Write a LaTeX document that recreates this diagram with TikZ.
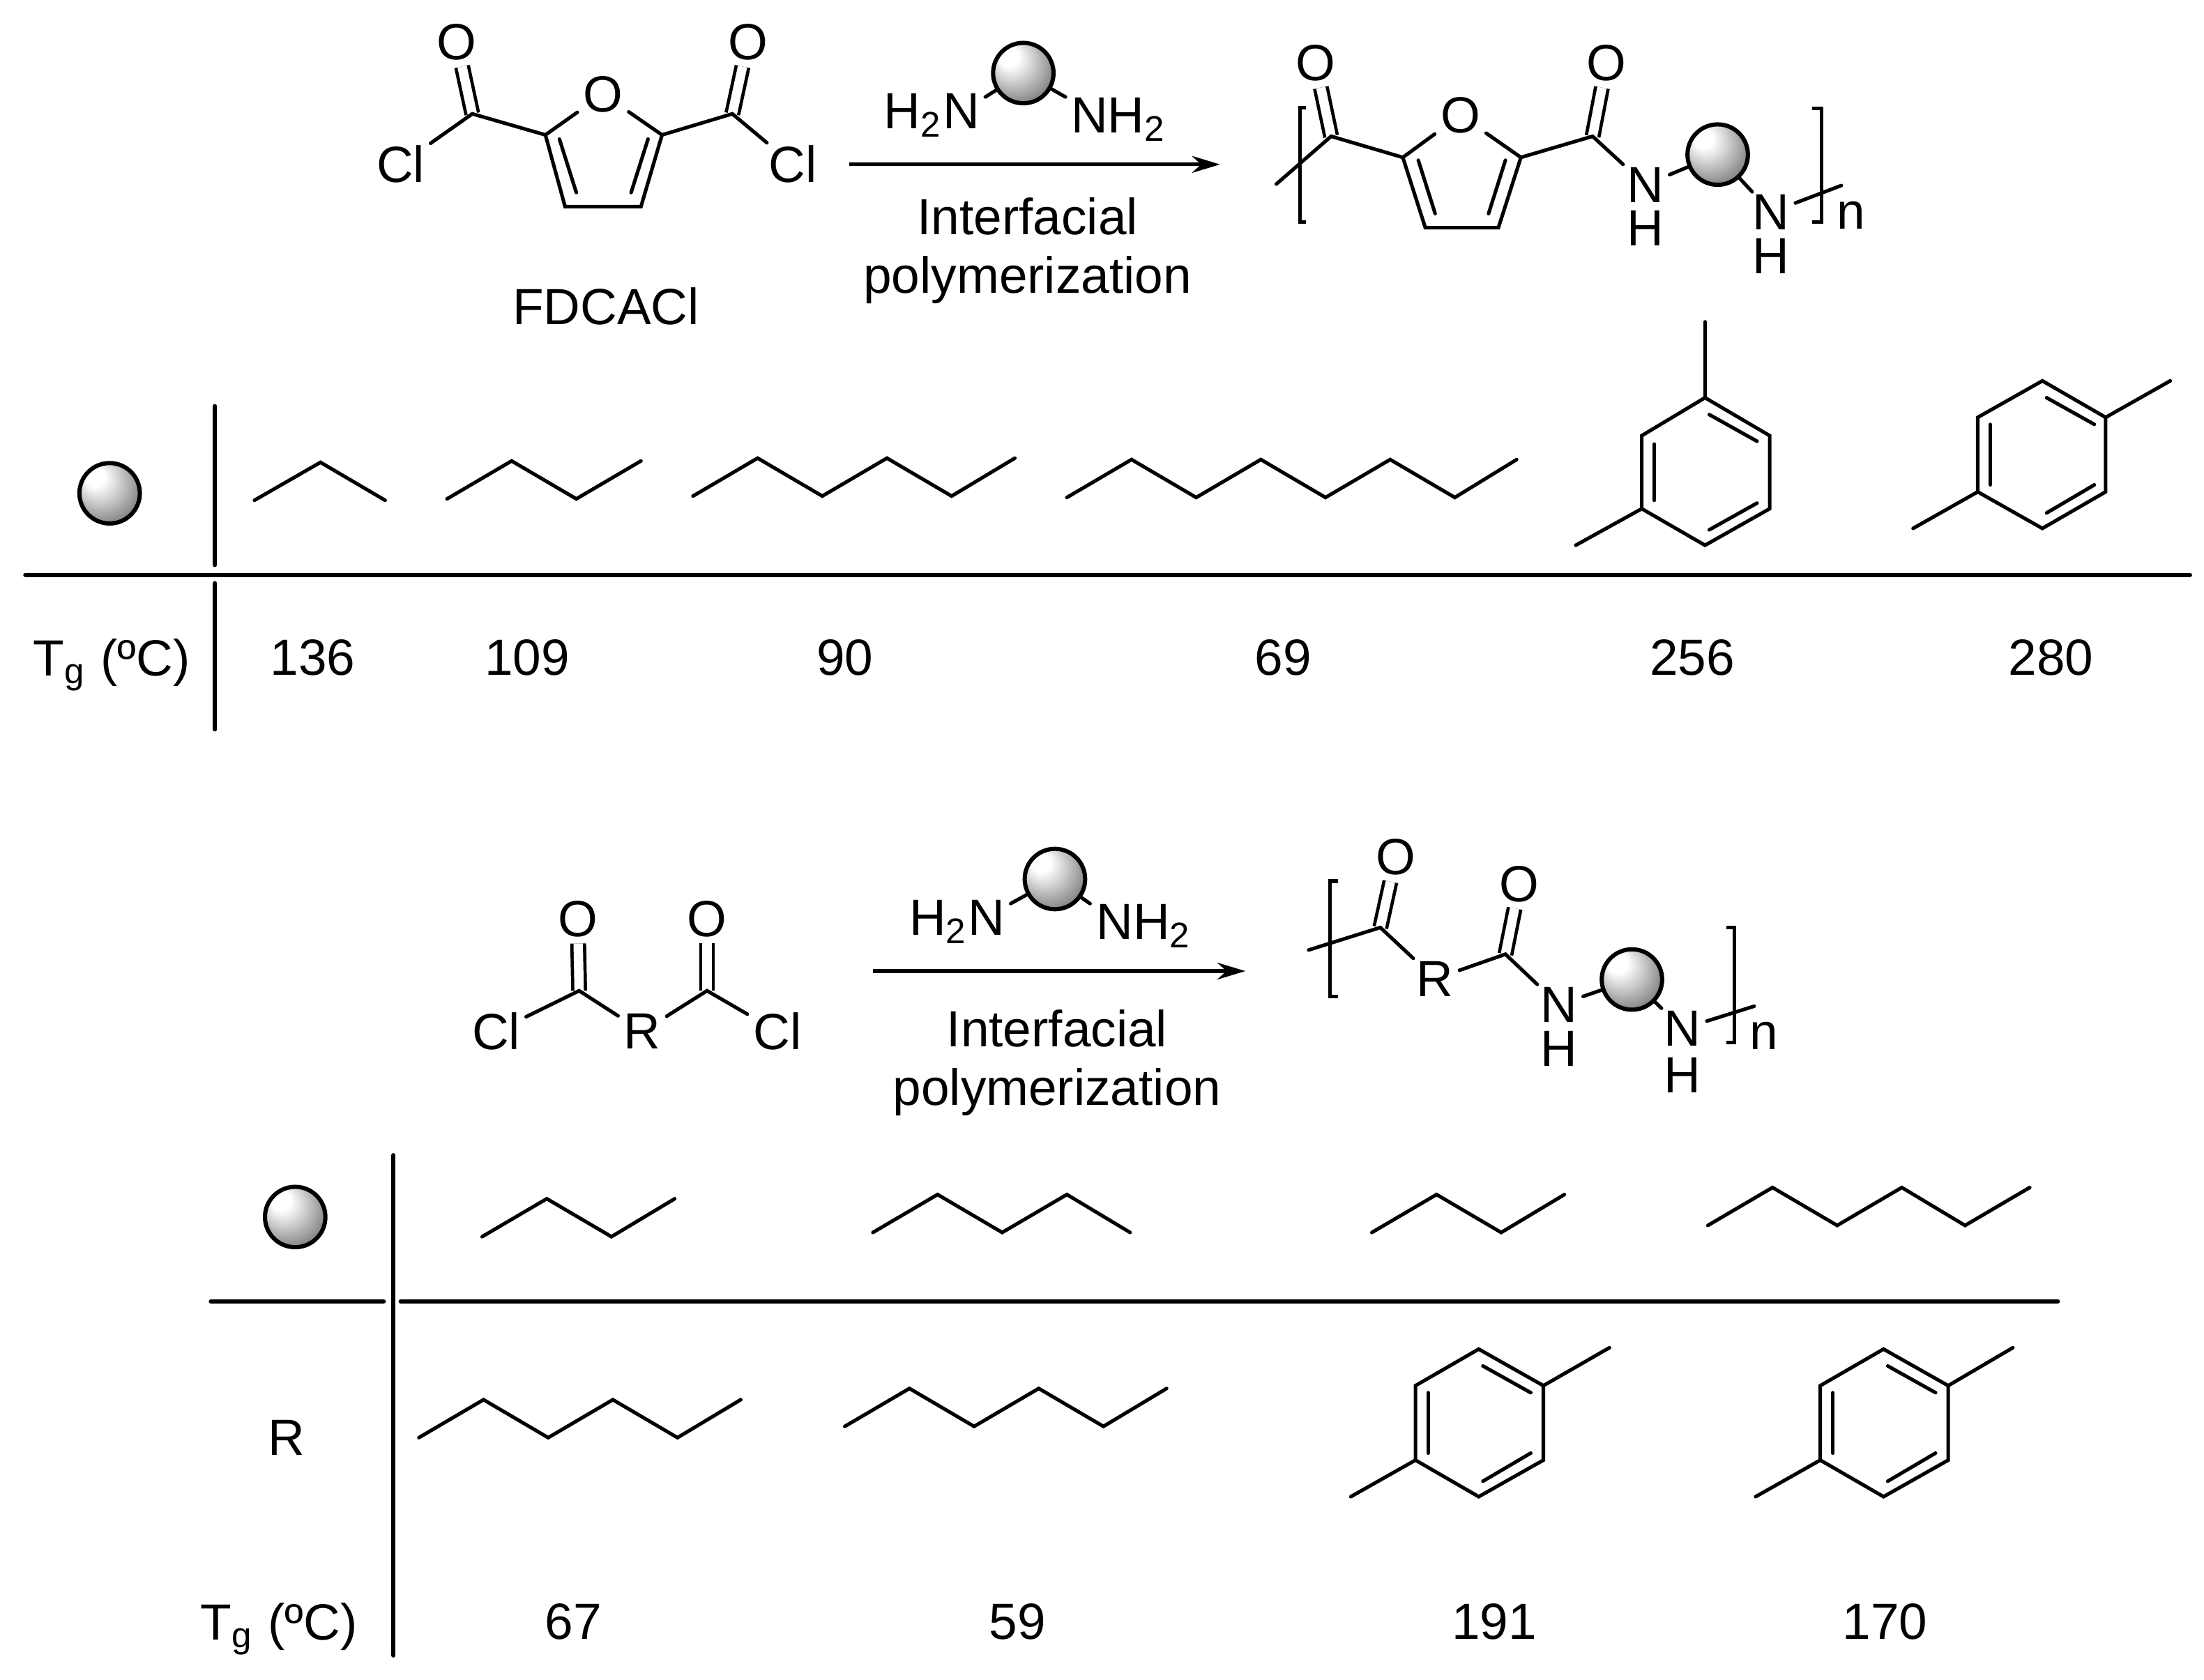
\documentclass[tikz,border=0pt]{standalone}
\usepackage{fontspec}
\setmainfont{Liberation Sans}
\usetikzlibrary{arrows.meta}
\pgfdeclareradialshading{beadshade}{\pgfpoint{-14bp}{16bp}}{%
  color(0bp)=(white); color(8bp)=(white); color(18bp)=(black!20);
  color(30bp)=(black!45); color(42bp)=(black!72); color(50bp)=(black!90)}
\tikzset{
  atom/.style={inner xsep=1pt,inner ysep=.4pt,font=\fontsize{10.3}{12}\selectfont},
  label/.style={inner sep=0pt,font=\fontsize{10.3}{12}\selectfont},
  bond/.style={draw,line width=.72pt,line cap=round,line join=miter},
  dbond/.style={draw,line width=.66pt,double,double distance=1.9pt,shorten >=.7pt},
  bead/.style={circle,draw,line width=.85pt,minimum size=.43cm,inner sep=0pt,shade,shading=beadshade},
  rule/.style={draw,line width=.85pt,line cap=round},
  bracket/.style={draw,line width=.72pt},
  rxn/.style={draw,line width=.72pt,-{Stealth[length=.2cm,width=.12cm]}}
}
\begin{document}
\begin{tikzpicture}[x=1cm,y=-1cm]
\useasboundingbox (0,0) rectangle (15.68,11.95);

% top monomer
\node[atom] (oa) at (3.25,0.30) {O};
\node[atom] (ob) at (5.32,0.30) {O};
\node[atom] (oc) at (4.29,0.67) {O};
\node[atom] (cla) at (2.85,1.17) {Cl};
\node[atom] (clb) at (5.64,1.17) {Cl};
\coordinate (ca) at (3.36,0.81);
\coordinate (cb) at (5.21,0.81);
\coordinate (ra) at (3.88,0.96);
\coordinate (rb) at (4.71,0.96);
\coordinate (rc) at (4.02,1.47);
\coordinate (rd) at (4.56,1.47);
\coordinate (ia) at (3.98,0.99);
\coordinate (ib) at (4.10,1.37);
\coordinate (ic) at (4.61,0.99);
\coordinate (id) at (4.49,1.37);
\path[dbond] (ca) -- (oa);
\path[dbond] (cb) -- (ob);
\path[bond] (cla) -- (ca) -- (ra) -- (oc);
\path[bond] (clb) -- (cb) -- (rb) -- (oc);
\path[bond] (ra) -- (rc) -- (rd) -- (rb);
\path[bond] (ia) -- (ib);
\path[bond] (ic) -- (id);

% top reaction arrow
\node[atom] (naa) at (6.63,0.82) {H\textsubscript{2}N};
\node[atom] (nab) at (7.96,0.85) {NH\textsubscript{2}};
\node[bead] (ba) at (7.28,0.52) {};
\coordinate (fa) at (7.01,0.69);
\coordinate (fb) at (7.58,0.69);
\path[bond] (fa) -- (ba);
\path[bond] (fb) -- (ba);
\coordinate (aa) at (6.04,1.17);
\coordinate (ab) at (8.68,1.17);
\path[rxn] (aa) -- (ab);
\node[label] (ta) at (7.31,1.54) {Interfacial};
\node[label] (tb) at (7.31,1.99) {polymerization};
\node[label] (tc) at (4.31,2.18) {FDCACl};

% top polymer
\node[atom] (pa) at (9.36,0.45) {O};
\node[atom] (pb) at (11.43,0.45) {O};
\node[atom] (pc) at (10.39,0.82) {O};
\node[atom] (pn) at (11.705,1.315) {N};
\node[atom] (ph) at (11.705,1.625) {H};
\node[atom] (qn) at (12.60,1.51) {N};
\node[atom] (qh) at (12.60,1.82) {H};
\node[bead] (bb) at (12.22,1.10) {};
\node[label] (pm) at (13.17,1.53) {n};
\coordinate (ea) at (9.08,1.31);
\coordinate (sa) at (9.47,0.97);
\coordinate (sb) at (11.33,0.97);
\coordinate (ua) at (9.98,1.12);
\coordinate (ub) at (10.82,1.12);
\coordinate (uc) at (10.14,1.62);
\coordinate (ud) at (10.66,1.62);
\coordinate (va) at (10.09,1.14);
\coordinate (vb) at (10.21,1.52);
\coordinate (vc) at (10.71,1.14);
\coordinate (vd) at (10.59,1.52);
\coordinate (eb) at (13.10,1.32);
\path[dbond] (sa) -- (pa);
\path[dbond] (sb) -- (pb);
\path[bond] (ea) -- (sa) -- (ua) -- (pc);
\path[bond] (pc) -- (ub) -- (sb) -- (pn);
\path[bond] (ua) -- (uc) -- (ud) -- (ub);
\path[bond] (va) -- (vb);
\path[bond] (vc) -- (vd);
\path[bond] (pn) -- (bb);
\path[bond] (bb) -- (qn);
\path[bond] (qn) -- (eb);
\path[bracket] (9.29,0.765) -- (9.25,0.765) -- (9.25,1.58) -- (9.29,1.58);
\path[bracket] (12.89,0.77) -- (12.96,0.77) -- (12.96,1.58) -- (12.89,1.58);

% top table
\path[rule] (1.53,2.89) -- (1.53,4.02);
\path[rule] (1.53,4.15) -- (1.53,5.19);
\path[rule] (0.18,4.09) -- (15.58,4.09);
\node[bead] (bc) at (0.78,3.51) {};
\path[bond] (1.81,3.56) -- (2.28,3.29) -- (2.74,3.56);
\path[bond] (3.18,3.55) -- (3.64,3.28) -- (4.10,3.55) -- (4.56,3.28);
\path[bond] (4.93,3.53) -- (5.39,3.26) -- (5.85,3.53) -- (6.31,3.26) -- (6.77,3.53) -- (7.22,3.26);
\path[bond] (7.59,3.54) -- (8.05,3.27) -- (8.51,3.54) -- (8.97,3.27) -- (9.43,3.54) -- (9.89,3.27) -- (10.35,3.54) -- (10.79,3.27);
% meta ring
\path[bond] (12.13,2.83) -- (12.59,3.10) -- (12.59,3.62) -- (12.13,3.88) -- (11.68,3.62) -- (11.68,3.10) -- cycle;
\path[bond] (12.13,2.83) -- (12.13,2.29);
\path[bond] (11.68,3.62) -- (11.21,3.88);
\path[bond] (12.16,2.95) -- (12.50,3.14);
\path[bond] (11.77,3.16) -- (11.77,3.56);
\path[bond] (12.16,3.77) -- (12.50,3.58);
% para ring
\path[bond] (14.53,2.71) -- (14.98,2.97) -- (14.98,3.50) -- (14.53,3.76) -- (14.07,3.50) -- (14.07,2.97) -- cycle;
\path[bond] (14.98,2.97) -- (15.44,2.71);
\path[bond] (14.07,3.50) -- (13.61,3.76);
\path[bond] (14.56,2.83) -- (14.90,3.02);
\path[bond] (14.16,3.02) -- (14.16,3.45);
\path[bond] (14.56,3.65) -- (14.90,3.45);

\node[label,anchor=base west] (tga) at (0.23,4.81) {T\textsubscript{g} (ºC)};
\node[label] (va1) at (2.225,4.68) {136};
\node[label] (va2) at (3.75,4.68) {109};
\node[label] (va3) at (6.01,4.68) {90};
\node[label] (va4) at (9.13,4.68) {69};
\node[label] (va5) at (12.04,4.68) {256};
\node[label] (va6) at (14.59,4.68) {280};

% bottom monomer
\node[atom] (od) at (4.11,6.54) {O};
\node[atom] (oe) at (5.03,6.54) {O};
\node[atom] (cld) at (3.53,7.34) {Cl};
\node[atom] (cle) at (5.53,7.34) {Cl};
\node[atom] (ra1) at (4.57,7.34) {R};
\coordinate (cd) at (4.12,7.05);
\coordinate (ce) at (5.03,7.05);
\path[dbond] (cd) -- (od);
\path[dbond] (ce) -- (oe);
\path[bond] (cld) -- (cd) -- (ra1);
\path[bond] (ra1) -- (ce) -- (cle);

% bottom reaction arrow
\node[atom] (nca) at (6.81,6.56) {H\textsubscript{2}N};
\node[atom] (ncb) at (8.14,6.59) {NH\textsubscript{2}};
\node[bead] (bd) at (7.505,6.255) {};
\coordinate (fc) at (7.19,6.43);
\coordinate (fd) at (7.755,6.43);
\path[bond] (fc) -- (bd);
\path[bond] (fd) -- (bd);
\coordinate (ac) at (6.21,6.91);
\coordinate (ad) at (8.86,6.91);
\path[rxn] (ac) -- (ad);
\node[label] (td) at (7.52,7.32) {Interfacial};
\node[label] (te) at (7.52,7.77) {polymerization};

% bottom polymer
\node[atom] (pd) at (9.93,6.10) {O};
\node[atom] (pe) at (10.81,6.29) {O};
\node[atom] (rb1) at (10.21,6.965) {R};
\node[atom] (rn) at (11.09,7.15) {N};
\node[atom] (rh) at (11.09,7.46) {H};
\node[atom] (sn) at (11.97,7.32) {N};
\node[atom] (sh) at (11.97,7.65) {H};
\node[bead] (be) at (11.61,6.97) {};
\node[label] (pq) at (12.55,7.37) {n};
\coordinate (ec) at (9.31,6.76);
\coordinate (sc) at (9.82,6.60);
\coordinate (sd) at (10.71,6.79);
\coordinate (ed) at (12.48,7.16);
\path[dbond] (sc) -- (pd);
\path[dbond] (sd) -- (pe);
\path[bond] (ec) -- (sc) -- (rb1);
\path[bond] (rb1) -- (sd) -- (rn);
\path[bond] (rn) -- (be);
\path[bond] (be) -- (sn);
\path[bond] (sn) -- (ed);
\path[bracket] (9.52,6.27) -- (9.46,6.27) -- (9.46,7.09) -- (9.52,7.09);
\path[bracket] (12.28,6.60) -- (12.34,6.60) -- (12.34,7.42) -- (12.28,7.42);

% bottom table
\path[rule] (2.80,8.22) -- (2.80,11.78);
\path[rule] (1.50,9.26) -- (2.73,9.26);
\path[rule] (2.85,9.26) -- (14.64,9.26);
\node[bead] (bf) at (2.10,8.66) {};
\node[label] (rc1) at (2.04,10.23) {R};
\path[bond] (3.43,8.80) -- (3.89,8.53) -- (4.35,8.80) -- (4.80,8.53);
\path[bond] (6.21,8.77) -- (6.67,8.50) -- (7.13,8.77) -- (7.59,8.50) -- (8.04,8.77);
\path[bond] (9.76,8.77) -- (10.22,8.50) -- (10.68,8.77) -- (11.13,8.50);
\path[bond] (12.15,8.72) -- (12.61,8.45) -- (13.07,8.72) -- (13.53,8.45) -- (13.98,8.72) -- (14.44,8.45);
\path[bond] (2.98,10.23) -- (3.44,9.96) -- (3.90,10.23) -- (4.36,9.96) -- (4.82,10.23) -- (5.27,9.96);
\path[bond] (6.01,10.15) -- (6.47,9.88) -- (6.93,10.15) -- (7.39,9.88) -- (7.85,10.15) -- (8.30,9.88);
% para rings
\path[bond] (10.52,9.60) -- (10.98,9.86) -- (10.98,10.39) -- (10.52,10.65) -- (10.07,10.39) -- (10.07,9.86) -- cycle;
\path[bond] (10.98,9.86) -- (11.45,9.59);
\path[bond] (10.07,10.39) -- (9.61,10.65);
\path[bond] (10.55,9.72) -- (10.89,9.91);
\path[bond] (10.16,9.91) -- (10.16,10.34);
\path[bond] (10.55,10.54) -- (10.89,10.34);
\path[bond] (13.40,9.60) -- (13.86,9.86) -- (13.86,10.39) -- (13.40,10.65) -- (12.95,10.39) -- (12.95,9.86) -- cycle;
\path[bond] (13.86,9.86) -- (14.32,9.59);
\path[bond] (12.95,10.39) -- (12.49,10.65);
\path[bond] (13.43,9.72) -- (13.77,9.91);
\path[bond] (13.04,9.91) -- (13.04,10.34);
\path[bond] (13.43,10.54) -- (13.77,10.34);

\node[label,anchor=base west] (tgb) at (1.42,11.67) {T\textsubscript{g} (ºC)};
\node[label] (vb1) at (4.08,11.54) {67};
\node[label] (vb2) at (7.24,11.54) {59};
\node[label] (vb3) at (10.63,11.54) {191};
\node[label] (vb4) at (13.41,11.54) {170};
\end{tikzpicture}
\end{document}
